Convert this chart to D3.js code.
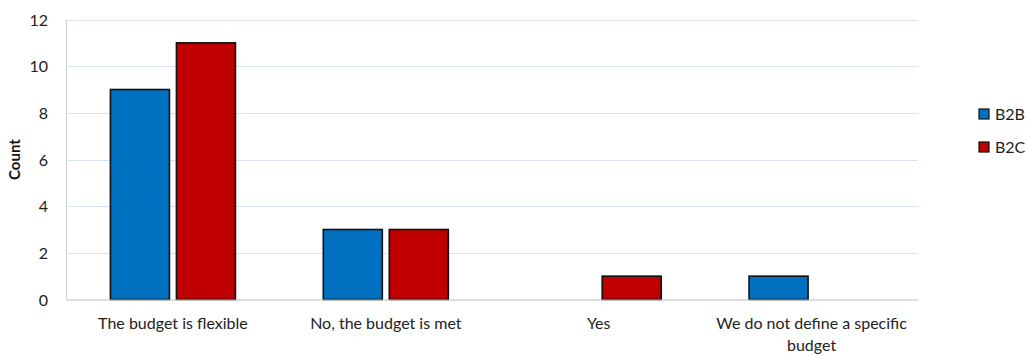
<!DOCTYPE html>
<html>
<head>
<meta charset="utf-8">
<script src="https://cdn.jsdelivr.net/npm/d3@7"></script>
<style>
  html, body { margin: 0; padding: 0; background: #fff; }
  svg { display: block; font-family: Lato, "Open Sans", sans-serif; }
</style>
</head>
<body>
<svg id="chart" width="1026" height="356"></svg>
<script>
// Survey answers about budget handling, split by business type
const categories = ["The budget is flexible", "No, the budget is met", "Yes", "We do not define a specific budget"];
const seriesNames = ["B2B", "B2C"];
const b2bValues = [9, 3, 0, 1];
const b2cValues = [11, 3, 1, 0];
const yTicks = [0, 2, 4, 6, 8, 10, 12];
const seriesColors = ["#0070c0", "#c00000"];

const valuesBySeries = [b2bValues, b2cValues];
const rows = categories.map((c, i) => ({
  category: c,
  values: seriesNames.map((s, k) => ({ series: s, value: valuesBySeries[k][i] }))
}));

const FONT = "Lato, 'Open Sans', sans-serif";
const svg = d3.select("#chart");
const plot = { left: 66.5, right: 918, top: 19.5, bottom: 299.5 };

const x = d3.scaleBand().domain(categories).range([plot.left, plot.right]).padding(0);
const xInner = d3.scaleBand().domain(seriesNames)
  .range([x.bandwidth() / 2 - 62.5, x.bandwidth() / 2 + 62.5])
  .paddingInner(0.106);
const y = d3.scaleLinear().domain([0, 12]).range([plot.bottom, plot.top]);
const color = d3.scaleOrdinal().domain(seriesNames).range(seriesColors);

// Horizontal gridlines
svg.append("g")
  .selectAll("line")
  .data(yTicks.filter(t => t > 0))
  .join("line")
  .attr("x1", plot.left).attr("x2", plot.right)
  .attr("y1", d => Math.round(y(d)) + 0.5).attr("y2", d => Math.round(y(d)) + 0.5)
  .attr("stroke", "#d9e1f4").attr("stroke-width", 1.2);

// Left axis line
svg.append("line")
  .attr("x1", plot.left).attr("x2", plot.left)
  .attr("y1", plot.top).attr("y2", plot.bottom)
  .attr("stroke", "#d0d0d0").attr("stroke-width", 1);

// Y tick labels
const yAxis = d3.axisLeft(y).tickValues(yTicks).tickSize(0).tickPadding(0);
const yg = svg.append("g").attr("transform", `translate(${48},0)`).call(yAxis);
yg.select(".domain").remove();
yg.selectAll("text")
  .attr("font-family", FONT)
  .attr("font-size", 16).attr("fill", "#222")
  .attr("dy", "0.35em");

// Y axis title
svg.append("text")
  .attr("transform", `translate(20,${(plot.top + plot.bottom) / 2}) rotate(-90)`)
  .attr("text-anchor", "middle")
  .attr("font-size", 15).attr("font-weight", "bold").attr("fill", "#111")
  .text("Count");

// Bars
const groups = svg.append("g").selectAll("g")
  .data(rows)
  .join("g")
  .attr("transform", d => `translate(${x(d.category)},0)`);

groups.selectAll("rect")
  .data(d => d.values.filter(v => v.value > 0))
  .join("rect")
  .attr("x", d => xInner(d.series))
  .attr("y", d => y(d.value))
  .attr("width", xInner.bandwidth())
  .attr("height", d => y(0) - y(d.value))
  .attr("fill", d => color(d.series))
  .attr("stroke", "#111")
  .attr("stroke-width", 1.6);

// Baseline
svg.append("line")
  .attr("x1", plot.left).attr("x2", plot.right)
  .attr("y1", plot.bottom + 0.5).attr("y2", plot.bottom + 0.5)
  .attr("stroke", "#bfbfbf").attr("stroke-width", 1.2);

// X category labels, wrapped to the band width
const xg = svg.append("g").attr("transform", `translate(0,${plot.bottom})`)
  .call(d3.axisBottom(x).tickSize(0).tickPadding(0));
xg.select(".domain").remove();
xg.selectAll("text")
  .attr("font-family", FONT)
  .attr("font-size", 16).attr("fill", "#222")
  .attr("y", 29).attr("dy", 0)
  .each(function () { wrap(d3.select(this), 200); });

function wrap(text, width) {
  const words = text.text().split(/\s+/);
  text.text(null);
  let line = [];
  let tspan = text.append("tspan").attr("x", 0).attr("dy", 0);
  for (const w of words) {
    line.push(w);
    tspan.text(line.join(" "));
    if (tspan.node().getComputedTextLength() > width && line.length > 1) {
      line.pop();
      tspan.text(line.join(" "));
      line = [w];
      tspan = text.append("tspan").attr("x", 0).attr("dy", 22).text(w);
    }
  }
}

// Legend
const legend = svg.append("g").selectAll("g")
  .data(seriesNames)
  .join("g")
  .attr("transform", (d, i) => `translate(979,${109 + i * 33})`);
legend.append("rect")
  .attr("width", 10).attr("height", 10)
  .attr("fill", d => color(d))
  .attr("stroke", "#111").attr("stroke-width", 1.2);
legend.append("text")
  .attr("x", 16).attr("y", 5).attr("dy", "0.35em")
  .attr("font-family", FONT)
  .attr("font-size", 16).attr("fill", "#222")
  .text(d => d);
</script>
</body>
</html>
